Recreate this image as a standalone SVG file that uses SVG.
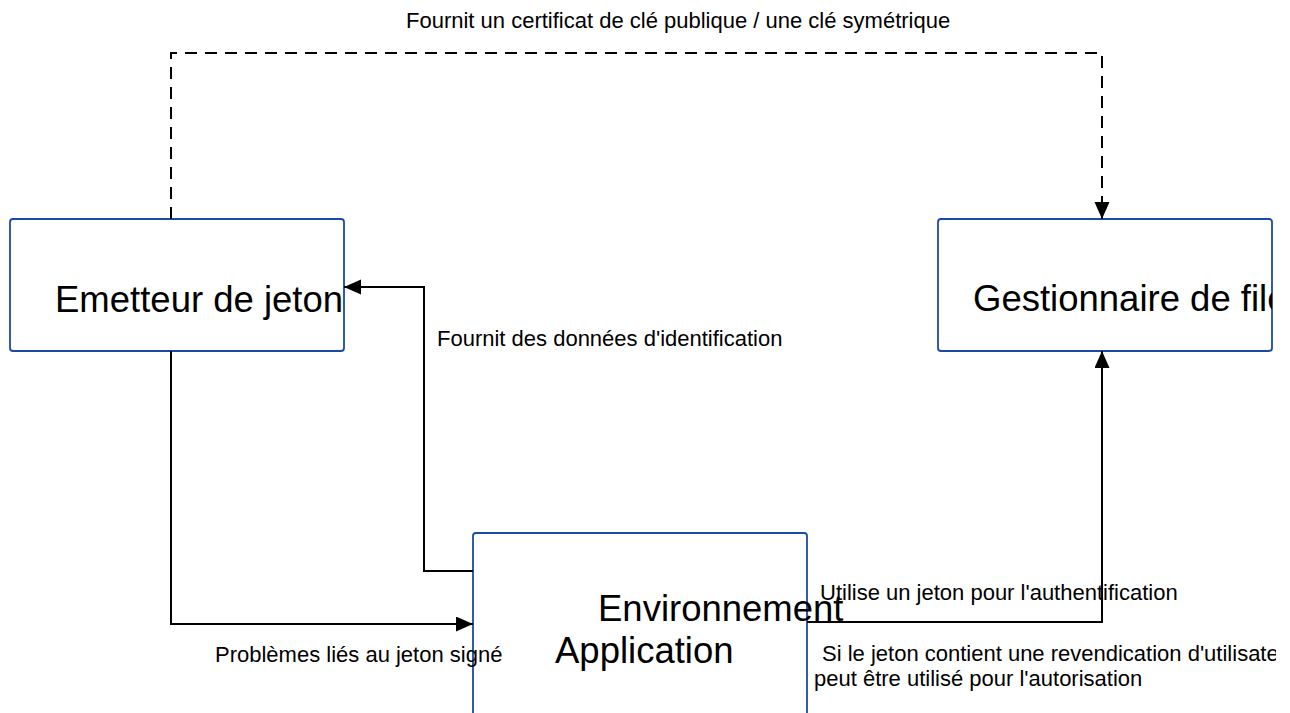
<svg xmlns="http://www.w3.org/2000/svg" width="1290" height="713" viewBox="0 0 1290 713">
  <style>
    .box { fill: #ffffff; stroke: #1a4aa6; stroke-width: 1.8; }
    .title { font-family: "Liberation Sans", Arial, sans-serif; font-size: 36.5px; fill: #000000; }
    .label { font-family: "Liberation Sans", Arial, sans-serif; font-size: 22px; fill: #000000; }
    .conn { fill: none; stroke: #000000; stroke-width: 2; }
    .dashed { stroke-dasharray: 12 8; }
  </style>
  <defs>
    <marker id="arrow" markerUnits="userSpaceOnUse" markerWidth="18" markerHeight="16" refX="17" refY="7.5" orient="auto">
      <path d="M0,0 L17,7.5 L0,15 Z" fill="#000000"/>
    </marker>
    <clipPath id="clipGest">
      <rect x="938" y="219" width="334" height="132"/>
    </clipPath>
    <clipPath id="clipLabel">
      <rect x="800" y="630" width="476" height="40"/>
    </clipPath>
  </defs>
  <rect width="1290" height="713" fill="#ffffff"/>

  <g id="node-emetteur">
    <rect class="box" x="10" y="219" width="334" height="132" rx="3"/>
    <text class="title" x="55" y="312">Emetteur de jeton</text>
  </g>

  <g id="node-gestionnaire">
    <rect class="box" x="938" y="219" width="334" height="132" rx="3"/>
    <text class="title" x="973" y="311" clip-path="url(#clipGest)">Gestionnaire de file</text>
  </g>

  <g id="node-environnement">
    <rect class="box" x="473" y="533" width="334" height="200" rx="3"/>
  </g>

  <g id="connectors">
    <path class="conn dashed" d="M171,219 L171,53 L1102,53 L1102,219" marker-end="url(#arrow)"/>
    <path class="conn" d="M171,351 L171,624 L473,624" marker-end="url(#arrow)"/>
    <path class="conn" d="M473,571 L424,571 L424,287 L344,287" marker-end="url(#arrow)"/>
    <path class="conn" d="M807,622 L1102,622 L1102,351" marker-end="url(#arrow)"/>
  </g>

  <g id="node-environnement-text">
    <text class="title" x="598" y="621">Environnement</text>
    <text class="title" x="555" y="663">Application</text>
  </g>

  <g id="labels">
    <text class="label" x="406" y="28">Fournit un certificat de clé publique / une clé symétrique</text>
    <text class="label" x="437" y="346">Fournit des données d'identification</text>
    <text class="label" x="215" y="662">Problèmes liés au jeton signé</text>
    <text class="label" x="820" y="600">Utilise un jeton pour l'authentification</text>
    <text class="label" x="822" y="661" clip-path="url(#clipLabel)">Si le jeton contient une revendication d'utilisateur,</text>
    <text class="label" x="814" y="686">peut être utilisé pour l'autorisation</text>
  </g>
</svg>
